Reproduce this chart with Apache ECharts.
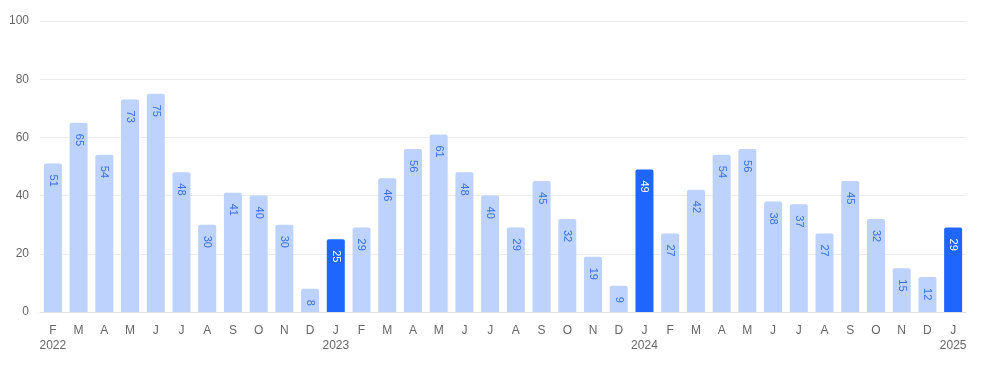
<!DOCTYPE html>
<html>
<head>
<meta charset="utf-8">
<script src="https://cdn.jsdelivr.net/npm/echarts@6/dist/echarts.min.js"></script>
<style>
html,body{margin:0;padding:0;background:#fff;}
#chart{width:998px;height:375px;}
</style>
</head>
<body>
<div id="chart"></div>
<script>
var months = ['F','M','A','M','J','J','A','S','O','N','D',
  'J','F','M','A','M','J','J','A','S','O','N','D',
  'J','F','M','A','M','J','J','A','S','O','N','D',
  'J'];
var years = ['2022','','','','','','','','','','',
  '2023','','','','','','','','','','','',
  '2024','','','','','','','','','','','',
  '2025'];
var values = [51,65,54,73,75,48,30,41,40,30,8,
  25,29,46,56,61,48,40,29,45,32,19,9,
  49,27,42,54,56,38,37,27,45,32,15,12,
  29];
var highlight = [false,false,false,false,false,false,false,false,false,false,false,
  true,false,false,false,false,false,false,false,false,false,false,false,
  true,false,false,false,false,false,false,false,false,false,false,false,
  true];
var yTicks = {min:0, max:100, interval:20};

var categories = months.map(function(m,i){ return years[i] ? m + '\n' + years[i] : m; });
var LIGHT = '#bdd3fd', DARK = '#1f66ff';

var data = values.map(function(v,i){
  return {
    value: v,
    itemStyle: {color: highlight[i] ? DARK : LIGHT},
    label: {color: highlight[i] ? '#ffffff' : '#3a6fdc'}
  };
});

var chart = echarts.init(document.getElementById('chart'));
chart.setOption({
  animation: false,
  grid: {left: 40, right: 32, top: 21, bottom: 63},
  xAxis: {
    type: 'category',
    data: categories,
    axisTick: {show: false},
    axisLine: {lineStyle: {color: '#e0e0e0'}},
    axisLabel: {color: '#666', fontSize: 12, fontFamily: 'Liberation Sans, Arial, sans-serif', margin: 11, lineHeight: 15, interval: 0}
  },
  yAxis: {
    type: 'value',
    min: yTicks.min, max: yTicks.max, interval: yTicks.interval,
    axisLabel: {color: '#666', fontSize: 12, fontFamily: 'Liberation Sans, Arial, sans-serif', margin: 11},
    splitLine: {lineStyle: {color: '#ececec'}},
    axisLine: {show: false},
    axisTick: {show: false}
  },
  series: [{
    type: 'bar',
    data: data,
    barCategoryGap: '30%',
    itemStyle: {borderRadius: [2,2,0,0]},
    label: {
      show: true,
      position: 'insideTop',
      rotate: -90,
      align: 'left',
      verticalAlign: 'middle',
      distance: 11,
      fontSize: 11,
      fontFamily: 'Liberation Sans, Arial, sans-serif'
    }
  }]
});
</script>
</body>
</html>
